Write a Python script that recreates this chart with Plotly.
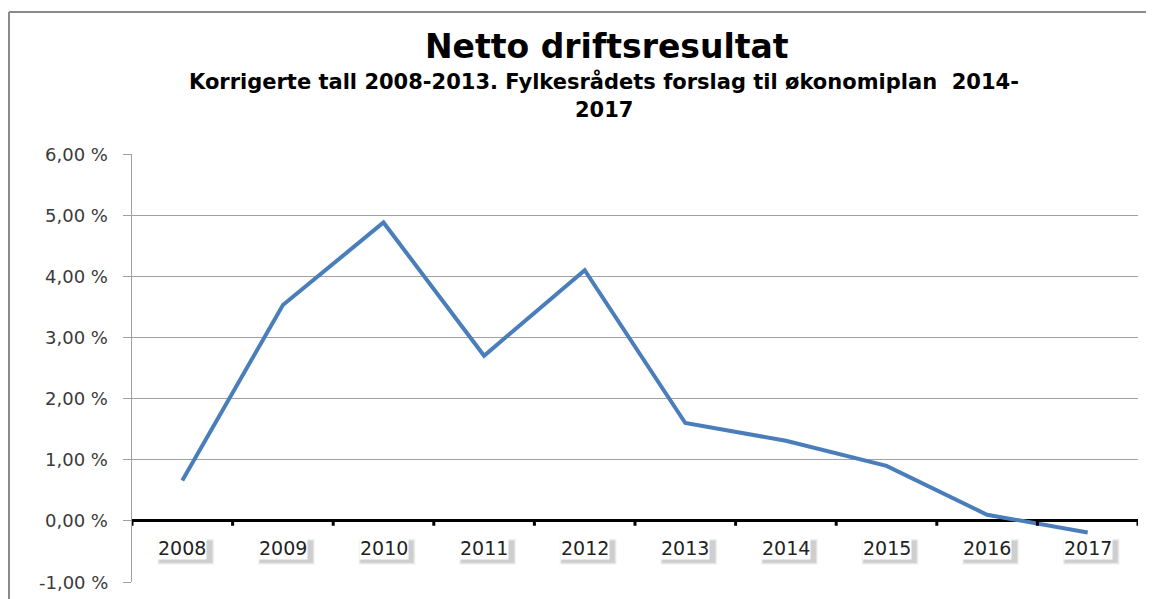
import plotly.graph_objects as go

years = ["2008", "2009", "2010", "2011", "2012", "2013", "2014", "2015", "2016", "2017"]
values = [0.66, 3.53, 4.88, 2.70, 4.10, 1.60, 1.31, 0.90, 0.10, -0.19]
y_ticks = [-1, 0, 1, 2, 3, 4, 5, 6]
y_tick_labels = ["-1,00 %", "0,00 %", "1,00 %", "2,00 %", "3,00 %", "4,00 %", "5,00 %", "6,00 %"]

FONT = "DejaVu Sans"
OFF = 8  # default page body margin
W, H = 1154 - OFF, 599 - OFF
ML, MR, MT, MB = 132 - OFF, 16, 154 - OFF, 17
PW, PH = W - ML - MR, H - MT - MB


def px(xpix):
    return (xpix - OFF - ML) / PW


def py(ypix):
    return 1 + (MT - (ypix - OFF)) / PH


idx = list(range(len(years)))

fig = go.Figure()
fig.add_trace(go.Scatter(x=idx, y=values, mode="lines",
                         line=dict(color="#4a7ebb", width=4), hoverinfo="skip"))

shapes = []
# outer chart border (top and left edges only visible)
shapes.append(dict(type="line", xref="paper", yref="paper", x0=px(9), x1=px(1300),
                   y0=py(12), y1=py(12), line=dict(color="#8a8a8a", width=2), layer="below"))
shapes.append(dict(type="line", xref="paper", yref="paper", x0=px(9), x1=px(9),
                   y0=py(700), y1=py(12), line=dict(color="#8a8a8a", width=2), layer="below"))
# black tick marks on the zero axis at category boundaries
for i in range(len(years) + 1):
    shapes.append(dict(type="line", xref="x", yref="y", x0=i - 0.5, x1=i - 0.5,
                       y0=0, y1=-0.08, line=dict(color="black", width=3)))
# soft shadows behind category label boxes
for i in range(len(years)):
    for k, a in enumerate([0.06, 0.09, 0.12]):
        d = 3 - k
        shapes.append(dict(type="rect", xref="x", yref="y", xsizemode="pixel", ysizemode="pixel",
                           xanchor=i, yanchor=-0.44,
                           x0=-27 + 3 - d + 2, x1=27 + 2 + d, y0=-12 - 2 - d, y1=11 - 3 + d - 2,
                           line=dict(width=0), fillcolor=f"rgba(60,60,60,{a})", layer="above"))

annotations = []
for i, yr in enumerate(years):
    annotations.append(dict(x=i, y=-0.44, xref="x", yref="y", text=yr, showarrow=False,
                            font=dict(family=FONT, size=19, color="#222222"),
                            bgcolor="white", borderpad=0))
for t, lab in zip(y_ticks, y_tick_labels):
    annotations.append(dict(x=px(110), y=t, xref="paper", yref="y", text=lab, showarrow=False,
                            xanchor="right", font=dict(family=FONT, size=18, color="#3a3a3a")))

annotations.append(dict(x=px(607), y=py(46), xref="paper", yref="paper",
                        text="<b>Netto driftsresultat</b>", yanchor="middle",
                        showarrow=False, font=dict(family=FONT, size=33, color="black")))
annotations.append(dict(x=px(604), y=py(82), xref="paper", yref="paper",
                        text="<b>Korrigerte tall 2008-2013. Fylkesrådets forslag til økonomiplan  2014-</b>",
                        showarrow=False, font=dict(family=FONT, size=21, color="black"), yanchor="middle"))
annotations.append(dict(x=px(604), y=py(110), xref="paper", yref="paper",
                        text="<b>2017</b>",
                        showarrow=False, font=dict(family=FONT, size=21, color="black"), yanchor="middle"))

fig.update_layout(
    width=W, height=H,
    margin=dict(l=ML, r=MR, t=MT, b=MB, autoexpand=False),
    paper_bgcolor="white", plot_bgcolor="white",
    showlegend=False,
    xaxis=dict(range=[-0.5, 9.5], showgrid=False, zeroline=False, showticklabels=False,
               ticks="", showline=False, fixedrange=True),
    yaxis=dict(range=[-1, 6], tickvals=y_ticks, showticklabels=False,
               showgrid=True, gridcolor="#a0a0a0", gridwidth=1,
               zeroline=True, zerolinecolor="black", zerolinewidth=3,
               showline=True, linecolor="#a0a0a0", linewidth=1,
               ticks="outside", ticklen=8, tickcolor="#a0a0a0"),
    shapes=shapes,
    annotations=annotations,
)

fig.write_html("out.html")
